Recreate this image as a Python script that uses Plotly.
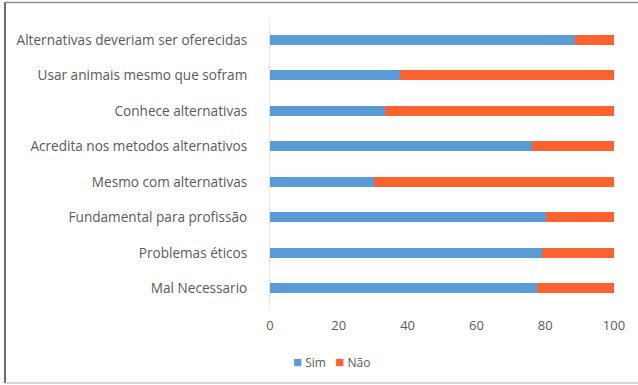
import plotly.graph_objects as go

categories = [
    "Alternativas deveriam ser oferecidas",
    "Usar animais mesmo que sofram",
    "Conhece alternativas",
    "Acredita nos metodos alternativos",
    "Mesmo com alternativas",
    "Fundamental para profissão",
    "Problemas éticos",
    "Mal Necessario",
]
sim = [88.6, 37.8, 33.3, 76.3, 30.2, 80.1, 79.2, 77.5]
nao = [round(100 - v, 1) for v in sim]

tick_vals = [0, 20, 40, 60, 80, 100]

series_names = ["Sim", "Não"]
series_colors = ["#5B9BD5", "#FA6230"]

font_family = "Open Sans, Noto Sans, sans-serif"
text_color = "#595959"

# plot area geometry in pixels (used to place the frame in paper units)
W, H = 638, 385
L, R, T, B = 270, 24, 22, 79
pw, ph = W - L - R, H - T - B


def px_x(x):
    return (x - L) / pw


def px_y(y):
    return (H - B - y) / ph


fig = go.Figure()
for name, vals, color in zip(series_names, [sim, nao], series_colors):
    fig.add_trace(go.Bar(y=categories, x=vals, name=name, orientation="h",
                         marker=dict(color=color, line=dict(width=0))))

# compact legend drawn as text
legend_html = (
    f"<span style='color:{series_colors[0]};font-size:15px'>■</span> {series_names[0]}"
    f"   <span style='color:{series_colors[1]};font-size:15px'>■</span> {series_names[1]}"
)

frame = [
    dict(x0=px_x(5), x1=px_x(5), y0=px_y(2), y1=px_y(383), color="#6E6E6E", width=2),
    dict(x0=px_x(5), x1=px_x(640), y0=px_y(2.5), y1=px_y(2.5), color="#8C8C8C", width=1.5),
    dict(x0=px_x(5), x1=px_x(640), y0=px_y(383), y1=px_y(383), color="#C4C4C4", width=1.5),
]

fig.update_layout(
    barmode="stack",
    bargap=0.71,
    width=W, height=H,
    margin=dict(l=L, r=R, t=T, b=B),
    paper_bgcolor="white",
    plot_bgcolor="white",
    font=dict(family=font_family, size=13.5, color=text_color),
    showlegend=False,
    xaxis=dict(range=[0, 100], tickvals=tick_vals, showgrid=False,
               zeroline=False, showline=False, ticks="",
               ticklabelstandoff=10,
               tickfont=dict(size=13, color=text_color)),
    yaxis=dict(autorange="reversed", showgrid=False, zeroline=False,
               showline=True, linecolor="#E4E4E4", linewidth=1, ticks="",
               ticklabelstandoff=19,
               tickfont=dict(size=13.6, color=text_color)),
    annotations=[dict(text=legend_html, xref="paper", yref="paper",
                      x=px_x(331), y=px_y(361), xanchor="center", yanchor="middle",
                      showarrow=False, font=dict(size=12, color=text_color))],
    shapes=[dict(type="line", xref="paper", yref="paper",
                 x0=f["x0"], x1=f["x1"], y0=f["y0"], y1=f["y1"],
                 line=dict(color=f["color"], width=f["width"]))
            for f in frame],
)

fig.write_html("out.html")
